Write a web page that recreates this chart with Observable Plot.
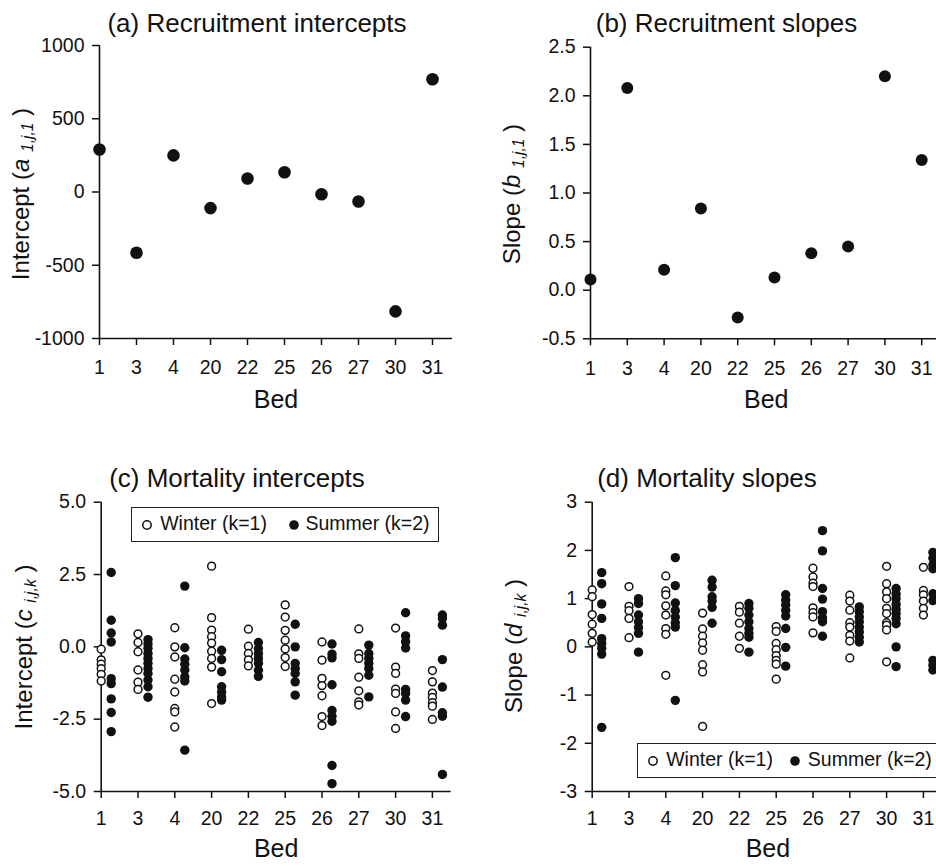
<!DOCTYPE html>
<html><head><meta charset="utf-8">
<script src="https://cdn.jsdelivr.net/npm/d3@7"></script>
<script src="https://cdn.jsdelivr.net/npm/@observablehq/plot@0.6"></script>
<style>
body{margin:0;background:#fff;}
#page{position:relative;width:936px;height:866px;overflow:hidden;background:#fff;font-family:'Liberation Sans',Arial,Helvetica,sans-serif;color:#111;}
.title{position:absolute;font-size:26px;line-height:26px;white-space:nowrap;text-align:center;width:400px;}
.ylab{position:absolute;font-size:24px;line-height:24px;white-space:nowrap;text-align:center;width:300px;height:24px;transform:rotate(-90deg);}
.ylab sub{font-size:0.65em;vertical-align:-0.28em;line-height:0;}
.legend{position:absolute;border:1.5px solid #222;box-sizing:border-box;height:35px;font-size:19.5px;background:#fff;}
.legend span{position:absolute;line-height:19.5px;white-space:nowrap;}
.legend svg{position:absolute;}
</style></head>
<body><div id="page"></div>
<script>
// ---- data ----
const beds = ["1","3","4","20","22","25","26","27","30","31"];
const recruitIntercept = [290, -415, 250, -110, 92, 135, -15, -65, -815, 770];
const recruitSlope = [0.11, 2.08, 0.21, 0.84, -0.28, 0.13, 0.38, 0.45, 2.20, 1.34];

const mortInterceptWinter = [
  [-0.08, -0.45, -0.6, -0.75, -0.95, -1.18],
  [0.45, 0.15, -0.17, -0.8, -1.22, -1.47],
  [0.66, 0, -0.35, -1.12, -1.56, -2.13, -2.25, -2.77],
  [2.79, 1.01, 0.58, 0.35, 0.13, -0.15, -0.40, -0.70, -1.96],
  [0.61, 0.02, -0.23, -0.45, -0.66],
  [1.45, 1.03, 0.57, 0.23, -0.07, -0.37, -0.68],
  [0.17, -0.46, -1.09, -1.34, -1.69, -2.41, -2.72],
  [0.62, -0.24, -0.40, -1.05, -1.52, -1.90, -2.01],
  [0.65, -0.7, -0.92, -1.46, -1.61, -2.25, -2.82],
  [-0.82, -1.21, -1.6, -1.75, -1.93, -2.05, -2.51]
];
const mortInterceptSummer = [
  [2.57, 0.92, 0.48, 0.17, -1.1, -1.27, -1.8, -2.27, -2.93],
  [0.25, 0.1, -0.05, -0.23, -0.4, -0.57, -0.75, -0.92, -1.15, -1.38, -1.74],
  [2.1, -0.03, -0.42, -0.6, -0.8, -1.04, -1.18, -3.57],
  [-0.12, -0.44, -0.86, -1.38, -1.56, -1.73, -1.84],
  [0.15, -0.06, -0.23, -0.4, -0.57, -0.81, -1.02],
  [0.78, 0, -0.57, -0.75, -0.92, -1.21, -1.67],
  [0.1, -0.25, -0.38, -1.31, -2.2, -2.4, -2.57, -4.1, -4.73],
  [0.06, -0.23, -0.4, -0.57, -0.75, -0.98, -1.73],
  [1.18, 0.38, 0.18, -0.04, -1.47, -1.61, -1.84, -2.41],
  [1.1, 0.98, 0.75, -0.44, -1.39, -2.28, -2.4, -4.41]
];
const mortSlopeWinter = [
  [1.18, 1.04, 0.67, 0.47, 0.28, 0.1],
  [1.25, 0.84, 0.75, 0.59, 0.19],
  [1.47, 1.16, 1.08, 0.85, 0.66, 0.38, 0.26, -0.59],
  [0.7, 0.37, 0.22, 0.08, -0.07, -0.37, -0.52, -1.65],
  [0.84, 0.72, 0.49, 0.22, -0.03],
  [0.42, 0.32, 0.07, -0.06, -0.18, -0.28, -0.36, -0.67],
  [1.63, 1.45, 1.32, 1.25, 0.81, 0.71, 0.62, 0.29],
  [1.07, 0.95, 0.76, 0.5, 0.41, 0.24, 0.12, -0.23],
  [1.67, 1.31, 1.14, 1.0, 0.8, 0.69, 0.5, 0.45, 0.35, -0.31],
  [1.65, 1.17, 1.08, 0.95, 0.8, 0.66]
];
const mortSlopeSummer = [
  [1.54, 1.31, 0.89, 0.59, 0.17, 0.07, -0.03, -0.15, -1.67],
  [1.0, 0.9, 0.66, 0.52, 0.4, 0.28, -0.11],
  [1.85, 1.27, 0.91, 0.75, 0.62, 0.5, 0.41, -1.11],
  [1.38, 1.24, 1.04, 0.95, 0.82, 0.49],
  [0.9, 0.8, 0.66, 0.52, 0.38, 0.28, 0.2, -0.11],
  [1.08, 0.97, 0.87, 0.76, 0.64, 0.38, -0.01, -0.4],
  [2.41, 1.99, 1.21, 0.99, 0.73, 0.6, 0.52, 0.22],
  [0.83, 0.73, 0.62, 0.52, 0.41, 0.31, 0.2, 0.1],
  [1.21, 1.1, 1.0, 0.88, 0.78, 0.69, 0.59, 0.48, 0, -0.41],
  [1.96, 1.84, 1.7, 1.62, 1.1, 0.96, -0.28, -0.38, -0.48]
];

const ticksA = [-1000, -500, 0, 500, 1000];
const ticksB = [-0.5, 0, 0.5, 1, 1.5, 2, 2.5];
const ticksC = [-5, -2.5, 0, 2.5, 5];
const ticksD = [-3, -2, -1, 0, 1, 2, 3];

// ---- helpers ----
const INK = "#111";
const page = document.getElementById("page");
const single = arr => arr.map((v, i) => ({i, v}));
const flat = arr => arr.flatMap((vals, i) => vals.map(v => ({i, v})));

function panel(o) {
  const marginLeft = o.frameLeft - o.left;
  const marginTop = o.frameTop - o.top;
  const marginBottom = o.top + o.height - o.frameBottom;
  const frameRight = o.frameLeft + o.xmax * o.ppu;
  const marginRight = o.left + o.width - frameRight;
  const svg = Plot.plot({
    width: o.width, height: o.height,
    marginLeft, marginTop, marginBottom, marginRight,
    style: {fontFamily: "'Liberation Sans', Arial, Helvetica, sans-serif", fontSize: "19.5px", color: INK, background: "transparent", maxWidth: "none", overflow: "visible"},
    x: {type: "linear", domain: [0, o.xmax]},
    y: {type: "linear", domain: o.yDomain},
    marks: [
      Plot.ruleX([0], {stroke: INK, strokeWidth: 1.6}),
      Plot.ruleY([o.yDomain[0]], {stroke: INK, strokeWidth: 1.6}),
      Plot.axisX(d3.range(beds.length), {tickFormat: i => beds[i], tickSize: 7, tickPadding: o.padX, stroke: INK, strokeWidth: 1.5, label: null}),
      Plot.axisY(o.yTicks, {tickFormat: o.yFmt, tickSize: 7, tickPadding: 8, stroke: INK, strokeWidth: 1.5, label: null}),
      Plot.text(["Bed"], {text: d => d, frameAnchor: "bottom", dy: o.bedDy, fontSize: 25, fill: INK}),
      ...o.marks
    ]
  });
  svg.style.position = "absolute";
  svg.style.left = o.left + "px";
  svg.style.top = o.top + "px";
  page.appendChild(svg);
}

function title(text, cx, baseline) {
  const d = document.createElement("div");
  d.className = "title";
  d.textContent = text;
  d.style.left = (cx - 200) + "px";
  d.style.top = (baseline - 22) + "px";
  page.appendChild(d);
}
function ylab(html, cx, cy) {
  const d = document.createElement("div");
  d.className = "ylab";
  d.innerHTML = html;
  d.style.left = (cx - 150) + "px";
  d.style.top = (cy - 12) + "px";
  page.appendChild(d);
}
function legend(left, top, width, pos) {
  const d = document.createElement("div");
  d.className = "legend";
  d.style.left = left + "px"; d.style.top = top + "px"; d.style.width = width + "px";
  const b = 1.5;
  d.innerHTML =
    `<svg width="14" height="14" style="left:${pos.c1 - 7 - b}px;top:${18.5 - 7 - b}px"><circle cx="7" cy="7" r="4.2" fill="#fff" stroke="${INK}" stroke-width="1.5"/></svg>` +
    `<span style="left:${pos.t1 - b}px;top:${24 - 16.5 - b}px">Winter (k=1)</span>` +
    `<svg width="14" height="14" style="left:${pos.c2 - 7 - b}px;top:${18.5 - 7 - b}px"><circle cx="7" cy="7" r="4.8" fill="${INK}"/></svg>` +
    `<span style="left:${pos.t2 - b}px;top:${24 - 16.5 - b}px">Summer (k=2)</span>`;
  page.appendChild(d);
}

// ---- (a) Recruitment intercepts ----
panel({left: 0, top: 0, width: 470, height: 430, frameLeft: 99, frameTop: 45, frameBottom: 338,
  ppu: 37, xmax: 9.54, yDomain: [-1000, 1000], yTicks: ticksA, yFmt: d => String(d), padX: 15, bedDy: 69,
  marks: [Plot.dot(single(recruitIntercept), {x: "i", y: "v", r: 6.3, fill: INK})]});

// ---- (b) Recruitment slopes ----
panel({left: 470, top: 0, width: 490, height: 430, frameLeft: 590, frameTop: 46.7, frameBottom: 338.3,
  ppu: 36.8, xmax: 9.55, yDomain: [-0.5, 2.5], yTicks: ticksB, yFmt: d => d.toFixed(1), padX: 15, bedDy: 69,
  marks: [Plot.dot(single(recruitSlope), {x: "i", y: "v", r: 6, fill: INK})]});

// ---- (c) Mortality intercepts ----
panel({left: 0, top: 430, width: 470, height: 436, frameLeft: 100.7, frameTop: 501.7, frameBottom: 791,
  ppu: 36.8, xmax: 9.51, yDomain: [-5, 5], yTicks: ticksC, yFmt: d => d.toFixed(1), padX: 13, bedDy: 65,
  marks: [
    Plot.dot(flat(mortInterceptWinter), {x: "i", y: "v", r: 3.9, fill: "#fff", stroke: INK, strokeWidth: 1.5}),
    Plot.dot(flat(mortInterceptSummer), {x: "i", y: "v", dx: 10, r: 4.7, fill: INK})
  ]});

// ---- (d) Mortality slopes ----
panel({left: 470, top: 430, width: 490, height: 436, frameLeft: 591.7, frameTop: 501.7, frameBottom: 791,
  ppu: 36.8, xmax: 9.55, yDomain: [-3, 3], yTicks: ticksD, yFmt: d => String(d), padX: 13, bedDy: 65,
  marks: [
    Plot.dot(flat(mortSlopeWinter), {x: "i", y: "v", r: 3.9, fill: "#fff", stroke: INK, strokeWidth: 1.5}),
    Plot.dot(flat(mortSlopeSummer), {x: "i", y: "v", dx: 9.5, r: 4.7, fill: INK})
  ]});

// ---- titles, axis labels, legends ----
title("(a) Recruitment intercepts", 257, 31.7);
title("(b) Recruitment slopes", 726.5, 31.7);
title("(c) Mortality intercepts", 237, 486.7);
title("(d) Mortality slopes", 707, 486.7);

ylab('Intercept (<i>a</i> <sub><i>1,j,1</i></sub> )', 21, 194);
ylab('Slope (<i>b</i> <sub><i>1,j,1</i></sub> )', 511.5, 194);
ylab('Intercept (<i>c</i> <sub><i>i,j,k</i></sub> )', 24.3, 647);
ylab('Slope (<i>d</i> <sub><i>i,j,k</i></sub> )', 514, 646);

legend(130.7, 506.7, 308.6, {c1: 17, t1: 30, c2: 164.3, t2: 175.3});
legend(637.3, 742.7, 320, {c1: 16.7, t1: 29.4, c2: 158.7, t2: 171});
</script>
</body></html>
